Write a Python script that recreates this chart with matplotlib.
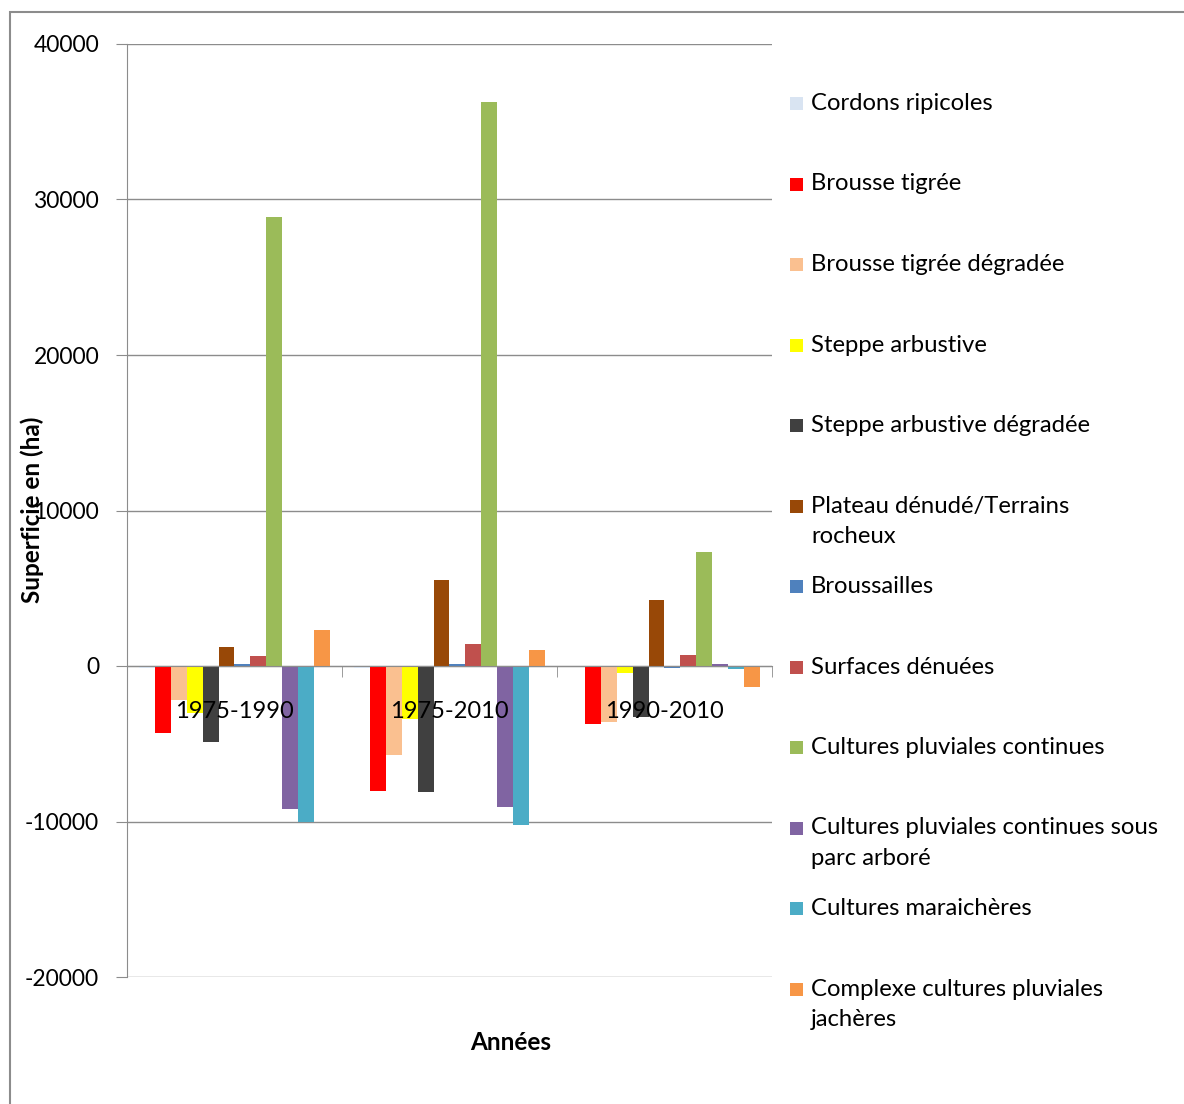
import matplotlib
matplotlib.use("Agg")
import matplotlib.pyplot as plt
from matplotlib.patches import Rectangle
import numpy as np

plt.rcParams['font.family'] = ['Lato', 'DejaVu Sans']
plt.rcParams['axes.unicode_minus'] = False

# data
periods = ["1975-1990", "1975-2010", "1990-2010"]

series_names = [
    "Cordons ripicoles",
    "Brousse tigrée",
    "Brousse tigrée dégradée",
    "Steppe arbustive",
    "Steppe arbustive dégradée",
    "Plateau dénudé/Terrains\nrocheux",
    "Broussailles",
    "Surfaces dénuées",
    "Cultures pluviales continues",
    "Cultures pluviales continues sous\nparc arboré",
    "Cultures maraichères",
    "Complexe cultures pluviales\njachères",
]

cordons = [-100, -150, -50]
brousse = [-4300, -8050, -3750]
brousse_deg = [-2200, -5700, -3600]
steppe = [-3000, -3400, -450]
steppe_deg = [-4900, -8100, -3300]
plateau = [1200, 5550, 4250]
broussailles = [120, 100, -100]
surfaces = [650, 1400, 700]
cult_cont = [28900, 36300, 7350]
cult_parc = [-9200, -9050, 100]
maraicheres = [-10000, -10200, -200]
complexe = [2300, 1000, -1350]

values = [cordons, brousse, brousse_deg, steppe, steppe_deg, plateau,
          broussailles, surfaces, cult_cont, cult_parc, maraicheres, complexe]

colors = ["#D9E4F2", "#FF0000", "#FAC090", "#FFFF00", "#404040", "#984807",
          "#4F81BD", "#C0504D", "#9BBB59", "#8064A2", "#4BACC6", "#F79646"]

W, H = 1184, 1104
fig = plt.figure(figsize=(W / 100, H / 100), dpi=100)

# outer chart frame
fig.patches.append(Rectangle((10 / W, -0.1), 1.2, 1 - 12 / H + 0.1,
                             transform=fig.transFigure, fill=False,
                             edgecolor="#8c8c8c", linewidth=1.5))

ax = fig.add_axes([127 / W, 1 - 977 / H, (772 - 127) / W, (977 - 44) / H])

x = np.arange(len(periods))
n = len(values)
bw = 1 / (n + 1.5)
for k, (vals, col) in enumerate(zip(values, colors)):
    ax.bar(x + (k - (n - 1) / 2) * bw, vals, width=bw, color=col,
           edgecolor="none", zorder=1)

ax.set_ylim(-20000, 40000)
ax.set_xlim(-0.5, len(periods) - 0.5)
yt = np.arange(-20000, 40001, 10000)
ax.set_yticks(yt)
ax.set_yticklabels([str(int(v)) for v in yt])
for v in yt:
    ax.axhline(v, color="#8c8c8c", linewidth=1, zorder=0)

for s in ["top", "right"]:
    ax.spines[s].set_visible(False)
ax.spines["left"].set_color("#8c8c8c")
ax.spines["bottom"].set_position(("data", 0))
ax.spines["bottom"].set_color("#8c8c8c")

ax.set_xticks(x)
ax.set_xticklabels(periods)
ax.set_xticks(np.arange(-0.5, len(periods)), minor=True)
ax.tick_params(axis="x", which="major", length=0, pad=25, labelsize=17,
               labelcolor="#000000")
ax.tick_params(axis="x", which="minor", length=8, color="#8c8c8c",
               direction="out")
ax.tick_params(axis="y", length=8, color="#8c8c8c", pad=12, labelsize=16.5)

fig.text(32 / W, 1 - 510 / H, "Superficie en (ha)", rotation=90,
         ha="center", va="center", fontsize=17.5, fontweight="bold")
fig.text(511 / W, 1 - 1042 / H, "Années", ha="center", va="center",
         fontsize=17.5, fontweight="bold")

# legend drawn by hand to match the spacing of the original
y0 = 103
step = 80.5
for k, (name, col) in enumerate(zip(series_names, colors)):
    yc = y0 + k * step
    fig.patches.append(Rectangle((790 / W, 1 - (yc + 7) / H), 13 / W, 13 / H,
                                 transform=fig.transFigure, facecolor=col,
                                 edgecolor="none"))
    fig.text(811 / W, 1 - (yc - 10) / H, name, ha="left", va="top",
             fontsize=17.2, linespacing=1.58)

fig.savefig("out.png", dpi=100)
